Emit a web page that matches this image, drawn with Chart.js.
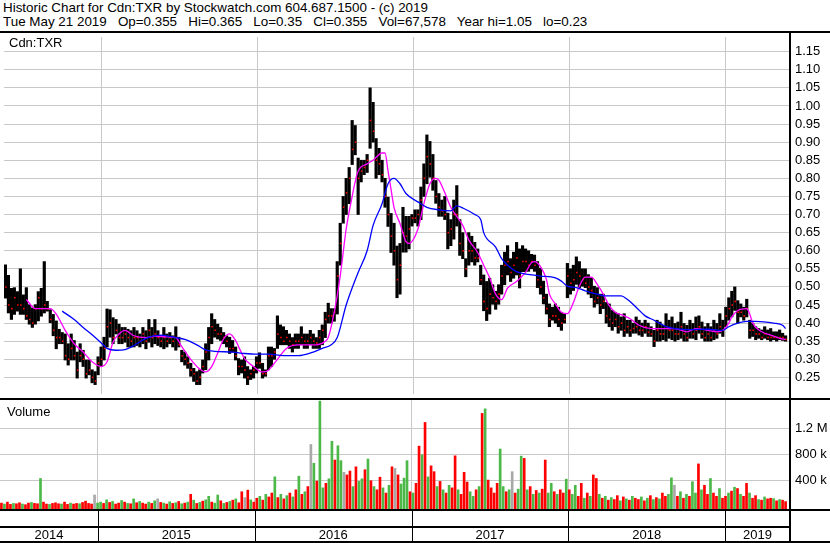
<!DOCTYPE html>
<html><head><meta charset="utf-8">
<script src="https://cdn.jsdelivr.net/npm/chart.js@4.4.1/dist/chart.umd.min.js"></script>
<style>
html,body{margin:0;padding:0;background:#fff;width:830px;height:543px;overflow:hidden;font-family:"Liberation Sans",Arial,sans-serif;}
#hdr{position:absolute;left:3px;top:1px;font-size:13.4px;line-height:14px;white-space:pre;color:#000;}
.bl{position:absolute;background:#000;}
canvas{position:absolute;left:0;}
.lbl{position:absolute;font-size:13px;line-height:14px;white-space:pre;color:#000;}
</style></head><body>
<div id="hdr">Historic Chart for Cdn:TXR by Stockwatch.com 604.687.1500 - (c) 2019
Tue May 21 2019   Op=0.355   Hi=0.365   Lo=0.35   Cl=0.355   Vol=67,578   Year hi=1.05   lo=0.23</div>
<canvas id="pc" width="830" height="365" style="top:33px;width:830px;height:365px"></canvas>
<canvas id="vc" width="830" height="143" style="top:400px;width:830px;height:143px"></canvas>
<div class="lbl" style="left:9px;top:36px">Cdn:TXR</div>
<div class="lbl" style="left:7px;top:405px">Volume</div>
<div class="bl" style="left:0;top:31px;width:830px;height:2px"></div>
<div class="bl" style="left:0;top:398px;width:830px;height:2px"></div>
<div class="bl" style="left:0;top:509px;width:830px;height:2px"></div>
<div class="bl" style="left:0;top:526px;width:790px;height:2px"></div>
<div class="bl" style="left:0;top:541px;width:830px;height:2px"></div>
<div class="bl" style="left:789px;top:31px;width:2px;height:512px"></div>
<script>
// ---- data (weekly, starting 2014-05-21) ----
const startDate = '2014-05-21';
const priceHigh = [
0.561,0.532,0.496,0.498,0.487,0.550,0.478,0.498,0.451,0.442,
0.451,0.487,0.496,0.570,0.460,0.437,0.424,0.406,0.383,0.374,
0.370,0.343,0.370,0.352,0.320,0.343,0.325,0.298,0.298,0.271,
0.266,0.307,0.334,0.361,0.439,0.437,0.415,0.410,0.397,0.388,
0.388,0.383,0.379,0.388,0.379,0.370,0.388,0.379,0.410,0.388,
0.410,0.379,0.365,0.388,0.370,0.374,0.365,0.390,0.361,0.325,
0.320,0.307,0.289,0.275,0.266,0.271,0.298,0.343,0.388,0.426,
0.410,0.397,0.388,0.374,0.365,0.361,0.352,0.334,0.302,0.298,
0.307,0.280,0.271,0.280,0.307,0.318,0.289,0.271,0.334,0.334,
0.330,0.420,0.395,0.390,0.380,0.370,0.360,0.370,0.370,0.390,
0.370,0.370,0.380,0.370,0.360,0.380,0.395,0.430,0.455,0.440,
0.440,0.570,0.676,0.750,0.800,0.830,0.960,0.946,0.856,0.850,
0.850,0.866,1.050,1.010,0.910,0.883,0.850,0.800,0.748,0.703,
0.676,0.613,0.620,0.720,0.695,0.695,0.700,0.713,0.713,0.776,
0.840,0.920,0.902,0.866,0.794,0.758,0.740,0.750,0.704,0.686,
0.740,0.780,0.686,0.650,0.578,0.650,0.640,0.623,0.605,0.560,
0.533,0.515,0.524,0.506,0.488,0.506,0.560,0.596,0.614,0.578,
0.596,0.623,0.605,0.614,0.605,0.600,0.590,0.588,0.570,0.552,
0.516,0.480,0.453,0.444,0.453,0.444,0.430,0.426,0.565,0.550,
0.560,0.583,0.570,0.550,0.550,0.534,0.525,0.502,0.498,0.480,
0.480,0.457,0.453,0.435,0.430,0.426,0.417,0.426,0.408,0.408,
0.400,0.417,0.408,0.400,0.408,0.400,0.390,0.380,0.408,0.403,
0.394,0.426,0.408,0.417,0.399,0.403,0.430,0.399,0.394,0.408,
0.399,0.417,0.420,0.403,0.390,0.399,0.390,0.408,0.399,0.426,
0.408,0.444,0.470,0.488,0.500,0.462,0.453,0.444,0.466,0.408,
0.400,0.390,0.385,0.381,0.390,0.381,0.385,0.376,0.376,0.381,
0.372,0.365];
const priceLow = [
0.469,0.428,0.410,0.424,0.433,0.424,0.424,0.410,0.397,0.388,
0.397,0.406,0.419,0.428,0.433,0.401,0.365,0.329,0.343,0.343,
0.298,0.284,0.298,0.298,0.248,0.293,0.280,0.248,0.257,0.235,
0.230,0.257,0.280,0.298,0.334,0.361,0.343,0.370,0.343,0.343,
0.347,0.334,0.334,0.334,0.338,0.334,0.343,0.329,0.347,0.334,
0.343,0.338,0.334,0.329,0.334,0.343,0.334,0.325,0.334,0.293,
0.284,0.275,0.253,0.239,0.230,0.230,0.262,0.271,0.298,0.343,
0.361,0.356,0.352,0.343,0.334,0.316,0.320,0.298,0.257,0.262,
0.248,0.230,0.244,0.248,0.262,0.275,0.248,0.253,0.271,0.280,
0.300,0.330,0.340,0.340,0.340,0.330,0.320,0.330,0.330,0.340,
0.330,0.330,0.340,0.330,0.330,0.330,0.340,0.360,0.400,0.400,
0.405,0.425,0.560,0.676,0.700,0.730,0.838,0.865,0.700,0.790,
0.810,0.816,0.883,0.900,0.800,0.810,0.790,0.720,0.667,0.595,
0.560,0.470,0.480,0.596,0.596,0.605,0.668,0.677,0.668,0.686,
0.750,0.785,0.803,0.767,0.731,0.695,0.695,0.686,0.605,0.614,
0.632,0.668,0.587,0.578,0.528,0.560,0.569,0.560,0.569,0.506,
0.434,0.407,0.425,0.452,0.438,0.452,0.480,0.506,0.533,0.515,
0.524,0.533,0.497,0.542,0.542,0.543,0.550,0.543,0.498,0.480,
0.453,0.425,0.390,0.408,0.400,0.390,0.380,0.400,0.470,0.480,
0.490,0.507,0.498,0.502,0.498,0.480,0.470,0.444,0.453,0.426,
0.440,0.400,0.390,0.380,0.390,0.372,0.380,0.363,0.372,0.363,
0.372,0.372,0.367,0.363,0.372,0.363,0.363,0.335,0.350,0.350,
0.354,0.350,0.358,0.354,0.350,0.354,0.358,0.350,0.350,0.358,
0.358,0.354,0.372,0.358,0.350,0.350,0.350,0.354,0.358,0.372,
0.363,0.390,0.408,0.417,0.435,0.400,0.417,0.408,0.417,0.358,
0.363,0.354,0.358,0.354,0.358,0.354,0.350,0.354,0.350,0.354,
0.352,0.350];
const priceClose = [
0.50,0.45,0.44,0.47,0.45,0.45,0.44,0.42,0.41,0.40,
0.44,0.47,0.44,0.45,0.44,0.41,0.38,0.36,0.36,0.35,
0.31,0.30,0.33,0.31,0.27,0.31,0.30,0.26,0.27,0.25,
0.24,0.29,0.30,0.33,0.39,0.40,0.36,0.38,0.36,0.36,
0.37,0.36,0.35,0.36,0.36,0.35,0.37,0.35,0.38,0.36,
0.37,0.36,0.35,0.36,0.35,0.36,0.35,0.36,0.34,0.31,
0.30,0.29,0.27,0.26,0.24,0.25,0.28,0.32,0.36,0.39,
0.38,0.37,0.37,0.36,0.35,0.33,0.33,0.31,0.28,0.28,
0.27,0.25,0.26,0.27,0.29,0.29,0.26,0.26,0.31,0.31,
0.32,0.37,0.36,0.35,0.36,0.35,0.34,0.35,0.35,0.36,
0.35,0.35,0.36,0.35,0.345,0.36,0.38,0.41,0.42,0.42,
0.43,0.53,0.62,0.72,0.76,0.80,0.88,0.90,0.80,0.82,
0.83,0.85,0.96,0.93,0.85,0.84,0.81,0.75,0.70,0.64,
0.60,0.52,0.56,0.65,0.64,0.66,0.69,0.69,0.70,0.74,
0.80,0.86,0.84,0.80,0.75,0.72,0.71,0.70,0.65,0.66,
0.70,0.70,0.62,0.60,0.55,0.60,0.60,0.58,0.58,0.52,
0.46,0.44,0.48,0.47,0.46,0.48,0.53,0.56,0.57,0.54,
0.56,0.58,0.53,0.57,0.57,0.56,0.57,0.56,0.52,0.50,
0.47,0.44,0.41,0.42,0.42,0.41,0.40,0.41,0.53,0.51,
0.52,0.54,0.53,0.52,0.51,0.50,0.49,0.46,0.47,0.45,
0.46,0.42,0.41,0.40,0.41,0.39,0.40,0.38,0.39,0.38,
0.385,0.39,0.38,0.38,0.39,0.375,0.37,0.35,0.38,0.37,
0.37,0.39,0.38,0.38,0.37,0.37,0.39,0.37,0.36,0.38,
0.37,0.38,0.39,0.37,0.36,0.37,0.36,0.38,0.37,0.39,
0.38,0.42,0.44,0.45,0.46,0.43,0.43,0.42,0.44,0.38,
0.38,0.37,0.37,0.36,0.37,0.36,0.36,0.36,0.36,0.36,
0.36,0.355];
// moving averages: week number -> value
const maFastWeek = [7,10,15,17,20,23,26,29,32,34,36,38,40,43,47,50,54,57,59,62,65,67,69,71,73,75,77,78,80,83,86,88,91,94,98,101,104,107,108,110,112,114,116,117,118,121,123,126,127,128,129,130,132,134,135,138,140,142,144,145,147,149,151,153,155,158,160,162,164,166,168,171,174,176,177,179,181,182,184,186,188,190,192,194,196,198,200,202,204,207,209,212,216,218,221,224,228,231,235,238,240,242,243,245,248,249,250,253,256,259,261];
const maFastVal  = [0.465,0.44,0.44,0.425,0.38,0.343,0.32,0.293,0.28,0.293,0.347,0.37,0.38,0.365,0.36,0.364,0.362,0.36,0.335,0.30,0.273,0.265,0.28,0.317,0.356,0.37,0.352,0.335,0.302,0.28,0.265,0.27,0.30,0.33,0.34,0.34,0.34,0.35,0.36,0.43,0.53,0.66,0.75,0.79,0.82,0.84,0.85,0.87,0.87,0.82,0.77,0.72,0.675,0.625,0.62,0.66,0.73,0.785,0.80,0.795,0.76,0.72,0.695,0.67,0.63,0.595,0.56,0.525,0.48,0.465,0.497,0.515,0.54,0.567,0.57,0.556,0.52,0.48,0.453,0.43,0.426,0.457,0.502,0.527,0.527,0.507,0.48,0.448,0.43,0.42,0.412,0.394,0.385,0.385,0.385,0.385,0.376,0.385,0.38,0.376,0.38,0.40,0.417,0.435,0.44,0.425,0.40,0.376,0.367,0.358,0.355];
const maSlowWeek = [19,23,26,29,33,34,37,40,43,47,52,57,60,64,67,70,76,80,84,88,93,98,103,106,109,111,114,118,121,123,126,128,130,132,134,138,141,145,149,151,153,157,159,160,164,166,168,171,176,179,184,186,188,191,194,198,201,206,208,211,214,217,219,221,224,229,235,240,242,245,248,251,257,260,261];
const maSlowVal  = [0.433,0.41,0.388,0.368,0.338,0.33,0.325,0.327,0.338,0.358,0.367,0.36,0.355,0.34,0.326,0.322,0.32,0.316,0.314,0.314,0.31,0.31,0.32,0.33,0.34,0.36,0.45,0.54,0.60,0.67,0.73,0.785,0.80,0.785,0.758,0.735,0.72,0.713,0.71,0.724,0.718,0.70,0.686,0.65,0.61,0.578,0.56,0.542,0.533,0.53,0.525,0.516,0.502,0.498,0.489,0.48,0.475,0.475,0.466,0.444,0.42,0.408,0.399,0.39,0.385,0.382,0.383,0.38,0.39,0.40,0.405,0.405,0.40,0.394,0.385];
// volume (thousands of shares) and direction: r = down, g = up, n = unchanged
const volumeK = [
45,30,60,25,40,35,50,30,20,45,55,40,35,425,60,30,25,40,50,35,30,60,25,45,30,40,35,55,75,40,30,170,45,
60,40,95,55,70,30,45,85,60,40,35,110,50,70,45,30,60,40,80,110,55,45,30,65,40,50,70,35,45,60,180,90,40,55,75,95,150,60,45,170,80,40,55,70,90,110,50,220,130,245,95,60,
120,150,90,180,140,200,450,130,180,110,160,200,140,250,460,180,220,300,950,660,385,1620,280,350,420,1000,710,930,700,520,480,540,300,605,380,420,560,725,390,300,250,445,280,200,320,605,580,480,340,430,700,220,
200,350,925,790,1290,450,620,530,300,380,250,200,320,280,775,250,180,520,370,220,150,250,300,1430,1500,400,280,200,350,880,300,220,250,530,200,260,770,735,250,300,180,240,200,260,710,200,350,220,180,250,200,415,
250,180,320,150,350,120,200,150,480,425,180,120,150,90,130,100,160,80,140,110,90,150,120,100,140,80,120,160,100,130,110,200,150,180,435,320,150,220,120,180,150,375,200,650,250,320,180,425,200,150,270,120,
150,200,230,290,270,180,150,350,200,120,160,100,90,140,110,120,115,80,100,90,68];
const volumeDir = (
"rgrrgrrgrrgrrgrrgrrrgrrgrrgrrrrng" +
"grgrgrrgrgrgrgrrgrgnrgrgrgrgrgrgrgrggrggrgrgrgrrnrgr" +
"rgrgrrgrgrgrgrgrgrngrggrggrggnrrgrggrgrgrrgrgrnrgggr" +
"grrgrgrrgrgrgrrgrrrggrgrgrrrrggrgnrggrgrgrgrrggrgrrg" +
"rggrrgrgrrgrgrgrrgrgrgrrgrgrgrgrrggnrgrgrggrgrrgrrgr" +
"rgrgrgrrgrrgrgrrgrgrr").split('');
// axis labels
const priceTicks = [0.25,0.30,0.35,0.40,0.45,0.50,0.55,0.60,0.65,0.70,0.75,0.80,0.85,0.90,0.95,1.00,1.05,1.10,1.15];
const volumeTicks = [400000, 800000, 1200000];
const volumeTickLabels = ['400 k', '800 k', '1.2 M'];
const yearLabels = ['2014','2015','2016','2017','2018','2019'];

// ---- helpers ----
const DAY = 864e5;
const t0 = Date.parse(startDate + 'T00:00:00Z');
const weekDay = w => w * 7;
const yearStarts = [2015,2016,2017,2018,2019].map(y => (Date.UTC(y,0,1) - t0) / DAY);
const X_MIN = -3.33, X_MAX = 1837.3;
const bandCenters = [];
{
  const edges = [X_MIN, ...yearStarts, X_MAX];
  for (let i = 0; i < edges.length - 1; i++) bandCenters.push((edges[i] + edges[i+1]) / 2);
}
const GRID = '#c8c8c8';
const FONT = {family: '"Liberation Sans", Arial, sans-serif', size: 13};
const colorOf = {r: '#ff0000', g: '#4cb848', n: '#a8a8a8'};

const bars = priceHigh.map((h, i) => ({x: weekDay(i), y: [priceLow[i], h]}));
const closes = priceClose.map((c, i) => ({x: weekDay(i) + 1, y: c}));
const fast = maFastWeek.map((w, i) => ({x: weekDay(w), y: maFastVal[i]}));
const slow = maSlowWeek.map((w, i) => ({x: weekDay(w), y: maSlowVal[i]}));
const vols = volumeK.map((v, i) => ({x: weekDay(i), y: v * 1000}));
const volColors = volumeDir.map(c => colorOf[c]);

function zeroPad(s) { s.paddingLeft = 0; s.paddingRight = 0; s.paddingTop = 0; s.paddingBottom = 0; }
const gridX = {
  type: 'linear', position: 'bottom', min: X_MIN, max: X_MAX, offset: false,
  grid: {color: GRID, lineWidth: 1, drawTicks: false, offset: false},
  border: {display: false},
  ticks: {display: false},
  afterBuildTicks: s => { s.ticks = yearStarts.map(v => ({value: v})); },
  afterFit: s => { s.height = 0; zeroPad(s); }
};
const common = {
  responsive: false, animation: false, devicePixelRatio: 1, events: [],
  layout: {padding: 0},
  plugins: {legend: {display: false}, tooltip: {enabled: false}}
};

new Chart(document.getElementById('pc'), {
  type: 'bar',
  data: {datasets: [
    {type: 'line', data: slow, borderColor: '#0000ff', borderWidth: 1.3, pointRadius: 0, cubicInterpolationMode: 'monotone', order: 0},
    {type: 'line', data: fast, borderColor: '#ff00ff', borderWidth: 1.3, pointRadius: 0, cubicInterpolationMode: 'monotone', order: 1},
    {type: 'line', data: closes, showLine: false, pointStyle: 'rect', pointRadius: 1.1, pointBackgroundColor: '#ff0000', pointBorderWidth: 0, order: 2},
    {type: 'bar', data: bars, backgroundColor: '#000', barThickness: 2.5, borderWidth: 0, order: 3}
  ]},
  options: Object.assign({}, common, {
    scales: {
      x: gridX,
      y: {
        position: 'right', min: 0.2041, max: 1.1905,
        grid: {color: GRID, lineWidth: 1, drawTicks: false},
        border: {display: false},
        ticks: {color: '#000', font: FONT, padding: 5, callback: v => v.toFixed(2)},
        afterBuildTicks: s => { s.ticks = priceTicks.map(v => ({value: v})); },
        afterFit: s => { s.width = 40; zeroPad(s); }
      }
    }
  })
});

const yearStrip = {
  id: 'yearStrip',
  afterDraw(chart) {
    const ctx = chart.ctx, xs = chart.scales.xg, top = chart.chartArea.bottom;
    ctx.save();
    ctx.fillStyle = '#000';
    yearStarts.forEach(d => {
      const px = Math.round(xs.getPixelForValue(d));
      ctx.fillRect(px, top, 1, chart.height - top);
    });
    ctx.restore();
  }
};

new Chart(document.getElementById('vc'), {
  type: 'bar',
  data: {datasets: [
    {data: vols, backgroundColor: volColors, barThickness: 2, borderWidth: 0, base: -46300}
  ]},
  options: Object.assign({}, common, {
    scales: {
      xg: gridX,
      x: {
        type: 'linear', position: 'bottom', min: X_MIN, max: X_MAX, offset: false,
        grid: {display: false, drawTicks: false, offset: false},
        border: {display: false},
        ticks: {color: '#000', font: FONT, padding: 19, autoSkip: false, maxRotation: 0, minRotation: 0,
                callback: (v, i) => yearLabels[i]},
        afterBuildTicks: s => { s.ticks = bandCenters.map(v => ({value: v})); },
        afterFit: s => { s.height = 34; zeroPad(s); }
      },
      y: {
        position: 'right', min: -46300, max: 1637000,
        grid: {color: GRID, lineWidth: 1, drawTicks: false},
        border: {display: false},
        ticks: {color: '#000', font: FONT, padding: 5, callback: (v, i) => volumeTickLabels[i]},
        afterBuildTicks: s => { s.ticks = volumeTicks.map(v => ({value: v})); },
        afterFit: s => { s.width = 40; zeroPad(s); }
      }
    }
  }),
  plugins: [yearStrip]
});
</script>
</body></html>
